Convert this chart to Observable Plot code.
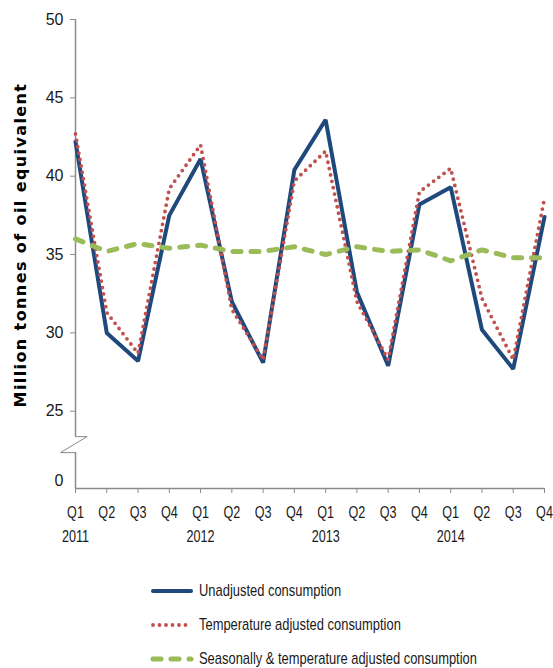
<!DOCTYPE html>
<html>
<head>
<meta charset="utf-8">
<script src="https://cdn.jsdelivr.net/npm/d3@7"></script>
<script src="https://cdn.jsdelivr.net/npm/@observablehq/plot@0.6"></script>
<style>
  html, body { margin: 0; padding: 0; background: #fff; }
  #wrap { position: relative; width: 553px; height: 668px; font-family: "Liberation Sans", Arial, sans-serif; }
  .legend-row { position: absolute; left: 150px; height: 20px; display: flex; align-items: center; font-size: 17px; color: #1a1a1a; white-space: nowrap; }
  .legend-row svg { margin-right: 5px; flex: none; }
  .legend-row span { display: inline-block; transform: scaleX(0.76); transform-origin: left center; }
  #chart g[aria-label="text"] text { letter-spacing: 1.4px; }
</style>
</head>
<body>
<div id="wrap">
  <div id="chart"></div>
  <div id="legend"></div>
</div>
<script>
// ---- data ----
const quarters = ["Q1","Q2","Q3","Q4","Q1","Q2","Q3","Q4","Q1","Q2","Q3","Q4","Q1","Q2","Q3","Q4"];
const years    = ["2011","","","","2012","","","","2013","","","","2014","","",""];
const unadjusted  = [42.2, 30.0, 28.2, 37.5, 41.1, 32.0, 28.1, 40.4, 43.6, 32.6, 27.9, 38.2, 39.3, 30.2, 27.7, 37.4];
const temperature = [42.7, 31.3, 28.7, 39.2, 42.0, 31.5, 28.3, 39.7, 41.6, 32.0, 28.3, 39.0, 40.5, 32.2, 28.3, 38.6];
const seasonal    = [36.0, 35.2, 35.7, 35.4, 35.6, 35.2, 35.2, 35.5, 35.0, 35.5, 35.2, 35.3, 34.6, 35.3, 34.8, 34.8];
const seriesNames = ["Unadjusted consumption", "Temperature adjusted consumption", "Seasonally & temperature adjusted consumption"];
const yTicks = [25, 30, 35, 40, 45, 50];
const zeroLabel = "0";
const yTitle = "Million tonnes of oil equivalent";

// broken-axis helpers (value scale positions)
const yBottom = 20.07;     // axis baseline (represents 0)
const zeroAt = 20.58;      // where "0" label sits
const breakTop = 23.38;
const breakBottom = 22.36;
const breakShape = [
  {x: 0, y: breakTop}, {x: 0.37, y: breakTop}, {x: -0.48, y: breakBottom}, {x: 0, y: breakBottom}
];

const idx = d3.range(quarters.length);
const styles = [
  {stroke: "#1F497D", strokeWidth: 4, strokeDasharray: null, strokeLinecap: "round"},
  {stroke: "#C0504D", strokeWidth: 3.8, strokeDasharray: "0 6.5", strokeLinecap: "round"},
  {stroke: "#9BBB59", strokeWidth: 5, strokeDasharray: "8 10", strokeLinecap: "round"}
];
const allSeries = [unadjusted, temperature, seasonal];

const axisColor = "#8a8a8a";
const chart = Plot.plot({
  width: 553,
  height: 550,
  marginLeft: 75,
  marginRight: 9,
  marginTop: 19,
  marginBottom: 62,
  x: {type: "linear", domain: [0, quarters.length - 1]},
  y: {domain: [yBottom, 50]},
  style: {fontFamily: '"Liberation Sans", Arial, sans-serif', fontSize: "16px", color: "#1a1a1a", background: "#fff"},
  marks: [
    Plot.axisY({ticks: yTicks, tickSize: 5, tickPadding: 7, stroke: axisColor, fill: "#1a1a1a", label: null}),
    Plot.axisY({ticks: [zeroAt], tickFormat: () => zeroLabel, tickSize: 0, tickPadding: 12, fill: "#1a1a1a", label: null}),
    Plot.axisX({ticks: idx, tickFormat: i => quarters[i], tickSize: 5, tickPadding: 12, stroke: axisColor, fill: "#1a1a1a", fontSize: 17, label: null}),
    Plot.axisX({ticks: idx.filter(i => years[i]), tickFormat: i => years[i], tickSize: 0, tickPadding: 41, fill: "#1a1a1a", fontSize: 17, label: null}),
    Plot.ruleY([yBottom], {stroke: axisColor, strokeWidth: 1.5}),
    Plot.ruleX([0], {y1: breakTop, y2: 50, stroke: axisColor, strokeWidth: 1.5}),
    Plot.ruleX([0], {y1: yBottom, y2: breakBottom, stroke: axisColor, strokeWidth: 1.5}),
    Plot.line(breakShape, {x: "x", y: "y", stroke: axisColor, strokeWidth: 1}),
    ...allSeries.map((vals, k) => Plot.line(idx, {x: i => i, y: i => vals[i], ...styles[k], strokeLinejoin: "miter"})),
    Plot.text([yTitle], {frameAnchor: "left", textAnchor: "middle", rotate: -90, dx: -55, dy: -9,
      fontSize: 16, fontWeight: "bold", fontFamily: '"DejaVu Sans", Verdana, sans-serif', fill: "#000"})
  ]
});
document.getElementById("chart").appendChild(chart);

// condense x tick labels (narrow typeface look)
chart.querySelectorAll('g[aria-label="x-axis tick label"] text').forEach(t => {
  const len = t.getComputedTextLength();
  t.setAttribute("textLength", (len * 0.74).toFixed(1));
  t.setAttribute("lengthAdjust", "spacingAndGlyphs");
});

// legend
const legend = document.getElementById("legend");
const rowTops = [581, 615, 649];
seriesNames.forEach((name, k) => {
  const row = document.createElement("div");
  row.className = "legend-row";
  row.style.top = rowTops[k] + "px";
  const s = styles[k];
  row.innerHTML = `<svg width="44" height="20"><line x1="3" x2="41" y1="10" y2="10" stroke="${s.stroke}" stroke-width="${s.strokeWidth}" stroke-linecap="round" ${s.strokeDasharray ? `stroke-dasharray="${s.strokeDasharray}"` : ""}/></svg><span>${name}</span>`;
  legend.appendChild(row);
});
</script>
</body>
</html>
